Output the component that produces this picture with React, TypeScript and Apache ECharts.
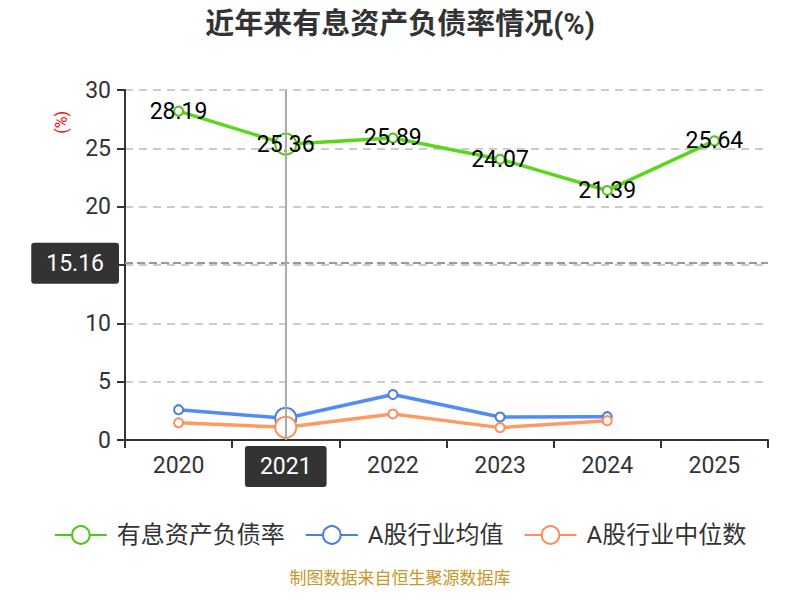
import React, { useEffect, useRef } from "react";
import * as echarts from "echarts";

const categories = ["2020", "2021", "2022", "2023", "2024", "2025"];
const debtRatio = [28.19, 25.36, 25.89, 24.07, 21.39, 25.64];
const industryMean = [2.6, 1.86, 3.9, 1.97, 2.0];
const industryMedian = [1.48, 1.09, 2.23, 1.06, 1.66];
const yTicks = { min: 0, max: 30, interval: 5 };
const pointerValue = 15.16;
const pointerIndex = 1;

const FONT = "Roboto, 'Noto Sans CJK SC', sans-serif";

export default function App() {
  const ref = useRef<HTMLDivElement>(null);
  useEffect(() => {
    if (!ref.current) return;
    const chart = echarts.init(ref.current, undefined, { renderer: "svg" });
    const mkSeries = (name: string, data: number[], color: string, label: boolean) => ({
      name,
      type: "line",
      data: data.map((v, i) => (i === pointerIndex ? { value: v, symbolSize: 21 } : v)),
      symbol: "emptyCircle",
      symbolSize: 9,
      lineStyle: { width: 3.5, color },
      itemStyle: { color, borderWidth: 1.5 },
      emphasis: { scale: false, focus: "none", lineStyle: { width: 3.5 } },
      label: label
        ? { show: true, position: "inside", color: "#000", fontSize: 23, fontFamily: FONT }
        : { show: false },
    });
    chart.setOption({
      animation: false,
      title: {
        text: "近年来有息资产负债率情况(%)",
        left: "center",
        top: -4,
        textStyle: { fontSize: 29, fontWeight: "bold", color: "#333", fontFamily: FONT },
      },
      tooltip: { trigger: "axis", showContent: false },
      legend: {
        bottom: 40,
        left: "center",
        itemWidth: 52,
        itemHeight: 22,
        itemGap: 20,
        textStyle: { fontSize: 24, color: "#333", fontFamily: FONT, padding: [0, 0, 0, 5] },
        data: ["有息资产负债率", "A股行业均值", "A股行业中位数"],
      },
      grid: { left: 117, right: 24, top: 82, bottom: 152 },
      xAxis: {
        type: "category",
        data: categories,
        boundaryGap: true,
        axisLine: { lineStyle: { color: "#333", width: 2 } },
        axisTick: { show: true, length: 8, lineStyle: { color: "#333", width: 2 } },
        axisLabel: { fontSize: 23, color: "#333", margin: 14, fontFamily: FONT },
        axisPointer: {
          show: true,
          type: "line",
          lineStyle: { color: "#aaa", width: 2, type: "solid" },
          label: {
            show: true,
            backgroundColor: "#333",
            color: "#fff",
            fontSize: 23,
            padding: [9, 15, 9, 15],
            margin: 6,
            fontFamily: FONT,
          },
        },
      },
      yAxis: {
        type: "value",
        min: yTicks.min,
        max: yTicks.max,
        interval: yTicks.interval,
        axisLine: { show: true, lineStyle: { color: "#333", width: 2 } },
        axisTick: { show: true, length: 8, lineStyle: { color: "#333", width: 2 } },
        axisLabel: { fontSize: 23, color: "#333", margin: 14, fontFamily: FONT },
        splitLine: { lineStyle: { type: [8, 6], color: "#ccc", width: 2 } },
        axisPointer: {
          show: true,
          type: "line",
          lineStyle: { color: "#999", width: 2, type: "dashed" },
          label: {
            show: true,
            backgroundColor: "#333",
            color: "#fff",
            fontSize: 23,
            padding: [9, 15, 9, 15],
            margin: 6,
            fontFamily: FONT,
            formatter: (p: any) => Number(p.value).toFixed(2),
          },
        },
      },
      graphic: [
        {
          type: "text",
          left: 45,
          top: 103,
          rotation: Math.PI / 2,
          style: { text: "(%)", fill: "#f00", fontSize: 16, fontFamily: FONT },
        },
        {
          type: "text",
          left: "center",
          top: 561,
          style: { text: "制图数据来自恒生聚源数据库", fill: "#c8962a", fontSize: 17, fontFamily: FONT },
        },
      ],
      series: [
        mkSeries("有息资产负债率", debtRatio, "#52c41a", true),
        mkSeries("A股行业均值", industryMean, "#4a7fe0", false),
        mkSeries("A股行业中位数", industryMedian, "#ff8c5a", false),
      ],
    });
    const pt = chart.convertToPixel({ gridIndex: 0 }, [pointerIndex, pointerValue]);
    if (pt) chart.dispatchAction({ type: "showTip", x: pt[0], y: pt[1] });
    return () => chart.dispose();
  }, []);
  return <div ref={ref} style={{ width: 784, height: 584 }} />;
}
